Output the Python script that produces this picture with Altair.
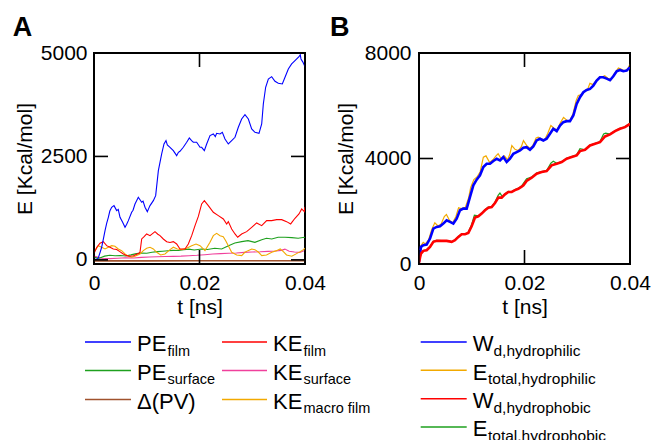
import altair as alt
import pandas as pd

FONT = "Liberation Sans"

# ---------------- Panel A data (t in ns, E in Kcal/mol) ----------------
pe_film_t = [0.0, 0.0004, 0.0008, 0.0012, 0.00145, 0.0018, 0.00209, 0.0024, 0.00272, 0.003,
             0.00335, 0.00379, 0.0043, 0.0046, 0.00493, 0.00543, 0.00588, 0.0062, 0.00651, 0.00714,
             0.0074, 0.00777, 0.0084, 0.00904, 0.0093, 0.00967, 0.01011, 0.0104, 0.01062, 0.01125,
             0.01169, 0.0122, 0.01283, 0.01327, 0.01365, 0.0139, 0.01441, 0.01504, 0.01567, 0.016,
             0.0163, 0.01693, 0.01757, 0.01807, 0.0185, 0.01883, 0.01946, 0.0201, 0.02041, 0.02092,
             0.02136, 0.02199, 0.02262, 0.023, 0.02325, 0.02389, 0.02433, 0.02483, 0.02546, 0.0261,
             0.02673, 0.02736, 0.02799, 0.02862, 0.02926, 0.02989, 0.03052, 0.03128, 0.03179, 0.0321,
             0.03254, 0.03305, 0.03368, 0.03431, 0.03494, 0.0357, 0.03621, 0.03684, 0.03747, 0.0381,
             0.03886, 0.0391, 0.03924, 0.0396, 0.04]
pe_film_e = [20, 10, 40, 200, 304, 520, 706, 880, 1029, 1180,
             1270, 1311, 1190, 1220, 1029, 908, 787, 860, 948, 1150,
             1200, 1351, 1513, 1392, 1420, 1271, 1166, 1250, 1311, 1432,
             1552, 2157, 2560, 2801, 2882, 2780, 2721, 2640, 2519, 2600,
             2625, 2721, 2842, 2946, 2880, 2842, 2842, 2721, 2721, 2640,
             2801, 3003, 3043, 2980, 3059, 3043, 3083, 2922, 2801, 2882,
             2963, 3204, 3405, 3510, 3405, 3164, 3083, 3059, 3285, 3768,
             4171, 4372, 4428, 4316, 4268, 4251, 4413, 4614, 4735, 4815,
             4911, 4960, 4856, 4780, 4670]

ke_film_t = [0.0, 0.0005, 0.00114, 0.00177, 0.0024, 0.00303, 0.00366, 0.0043, 0.0049, 0.00556,
             0.0062, 0.00682, 0.0075, 0.00777, 0.0085, 0.00872, 0.00904, 0.0095, 0.00998, 0.01062,
             0.01156, 0.0121, 0.01251, 0.01314, 0.01378, 0.01441, 0.01504, 0.01567, 0.0163, 0.01725,
             0.01788, 0.01852, 0.01915, 0.01978, 0.02041, 0.02092, 0.02167, 0.02262, 0.02357, 0.02452,
             0.02515, 0.02546, 0.0261, 0.02673, 0.02724, 0.02799, 0.02894, 0.02989, 0.03084, 0.03179,
             0.03273, 0.03368, 0.03463, 0.03558, 0.03652, 0.03728, 0.0381, 0.03886, 0.03937, 0.03987,
             0.04]
ke_film_e = [150, 300, 401, 440, 343, 305, 263, 250, 200, 140,
             102, 87, 100, 119, 160, 183, 505, 560, 626, 585,
             682, 620, 585, 505, 440, 420, 440, 384, 263, 263,
             384, 585, 827, 1050, 1351, 1432, 1311, 1150, 1069, 988,
             868, 924, 747, 626, 546, 626, 682, 787, 892, 827,
             948, 948, 972, 972, 924, 868, 1005, 1109, 1230, 1165,
             1280]

pe_surf_t = [0.0, 0.001, 0.002, 0.003, 0.004, 0.005, 0.006, 0.007, 0.008, 0.009,
             0.010, 0.011, 0.012, 0.013, 0.014, 0.015, 0.016, 0.017, 0.018, 0.019,
             0.0204, 0.0215, 0.0229, 0.0242, 0.0255, 0.0267, 0.028, 0.0292, 0.0305, 0.0318,
             0.0327, 0.0337, 0.0349, 0.0362, 0.0375, 0.0387, 0.0399, 0.04]
pe_surf_e = [60, 40, 90, 110, 100, 105, 95, 120, 150, 165,
             160, 185, 200, 210, 220, 230, 225, 245, 260, 240,
             263, 250, 280, 263, 343, 408, 440, 464, 424, 488,
             521, 505, 545, 545, 537, 521, 545, 540]

ke_surf_t = [0.0, 0.0008, 0.0015, 0.003, 0.0045, 0.006, 0.0075, 0.009, 0.0105, 0.012,
             0.0135, 0.015, 0.0165, 0.018, 0.0195, 0.021, 0.0225, 0.024, 0.0255, 0.027,
             0.0285, 0.03, 0.0315, 0.033, 0.0345, 0.0355, 0.0362, 0.037, 0.038, 0.039,
             0.0397, 0.04]
ke_surf_e = [90, 60, 40, 30, 40, 50, 45, 60, 70, 75,
             80, 85, 90, 100, 110, 125, 140, 150, 160, 165,
             180, 190, 195, 205, 215, 230, 260, 210, 190, 180,
             215, 225]

dpv_t = [0.0, 0.01, 0.02, 0.03, 0.036, 0.04]
dpv_e = [-25, -25, -22, -20, -20, -20]

ke_macro_t = [0.0, 0.0002, 0.00082, 0.00145, 0.00209, 0.00272, 0.00335, 0.00398, 0.00461, 0.00524,
              0.00588, 0.00651, 0.00714, 0.00777, 0.00872, 0.00935, 0.00998, 0.01062, 0.01125, 0.01188,
              0.01264, 0.01346, 0.01441, 0.01504, 0.0158, 0.01662, 0.01757, 0.01852, 0.01934, 0.0201,
              0.02104, 0.02199, 0.02262, 0.02325, 0.02389, 0.0245, 0.02497, 0.02546, 0.0261, 0.02705,
              0.028, 0.0286, 0.0292, 0.0299, 0.0305, 0.0312, 0.0318, 0.0327, 0.0337, 0.0346,
              0.0353, 0.0359, 0.0365, 0.0375, 0.0384, 0.0391, 0.0397, 0.04]
ke_macro_e = [200, 223, 343, 305, 263, 305, 343, 328, 263, 223,
              143, 87, 63, 87, 143, 223, 280, 305, 263, 183,
              119, 143, 247, 305, 263, 247, 280, 343, 384, 343,
              223, 424, 585, 642, 585, 560, 464, 343, 183, 119,
              103, 183, 223, 263, 247, 183, 103, 119, 183, 223,
              263, 199, 119, 87, 151, 199, 247, 280]

# ---------------- Panel B data ----------------
wd_phil_t = [0.0, 0.0002, 0.00038, 0.00082, 0.00145, 0.00209, 0.00272, 0.00335, 0.00398, 0.00461,
             0.00524, 0.00588, 0.00651, 0.00714, 0.00777, 0.0084, 0.00904, 0.00967, 0.0103, 0.01093,
             0.01156, 0.0122, 0.01283, 0.01346, 0.0141, 0.01473, 0.01536, 0.01599, 0.01662, 0.01725,
             0.01788, 0.01852, 0.01915, 0.01978, 0.0204, 0.02104, 0.02167, 0.0223, 0.02293, 0.02357,
             0.0242, 0.02483, 0.02546, 0.0261, 0.02673, 0.02736, 0.02799, 0.02862, 0.02926, 0.02989,
             0.03052, 0.03116, 0.03179, 0.03242, 0.03305, 0.03368, 0.03431, 0.03494, 0.03558, 0.03621,
             0.03684, 0.03747, 0.0381, 0.03873, 0.03937, 0.04]
wd_phil_e = [80, 400, 651, 712, 737, 965, 1343, 1406, 1431, 1532,
             1658, 1595, 1532, 1721, 2037, 2100, 2100, 2541, 2982, 3197,
             3361, 3676, 3802, 3802, 3903, 3991, 3928, 4054, 3865, 3991,
             4180, 4243, 4306, 4407, 4432, 4331, 4457, 4685, 4748, 4685,
             4748, 4937, 5126, 5038, 5252, 5378, 5416, 5416, 5630, 6072,
             6324, 6513, 6601, 6639, 6765, 6955, 7081, 7081, 7030, 6967,
             7120, 7308, 7358, 7308, 7333, 7459]

et_phil_t = [0.0, 0.0004, 0.0008, 0.0012, 0.0018, 0.0024, 0.0030, 0.0036, 0.0042, 0.0048,
             0.0052, 0.0058, 0.0064, 0.0070, 0.0075, 0.0080, 0.0088, 0.0094, 0.0098, 0.0104,
             0.0110, 0.0116, 0.0122, 0.0127, 0.0134, 0.0140, 0.0146, 0.0150, 0.0156, 0.0162,
             0.0168, 0.0172, 0.0176, 0.0182, 0.0188, 0.0194, 0.0198, 0.0204, 0.0210, 0.0216,
             0.0222, 0.0226, 0.0232, 0.0238, 0.0244, 0.0250, 0.0256, 0.0262, 0.0268, 0.0274,
             0.0280, 0.0286, 0.0292, 0.0298, 0.0302, 0.0308, 0.0314, 0.0320, 0.0324, 0.0330,
             0.0336, 0.0342, 0.0348, 0.0352, 0.0358, 0.0364, 0.0370, 0.0378, 0.0384, 0.0390,
             0.0396, 0.0400]
et_phil_e = [120, 700, 820, 760, 900, 1300, 1560, 1440, 1520, 1800,
             1880, 1650, 1560, 1800, 2130, 2100, 2150, 2500, 2900, 3200,
             3300, 3500, 4050, 4100, 3850, 3950, 4100, 4180, 3980, 4100,
             3950, 4150, 4490, 4350, 4300, 4450, 4680, 4500, 4380, 4500,
             4780, 4810, 4750, 4700, 4950, 5250, 5150, 5080, 5350, 5560,
             5450, 5430, 5700, 6200, 6390, 6420, 6540, 6640, 6850, 6800,
             6960, 7090, 7100, 7140, 7040, 6990, 7200, 7430, 7380, 7320,
             7400, 7580]

wd_phob_t = [0.0, 0.0002, 0.00038, 0.00082, 0.00145, 0.00209, 0.00272, 0.00335, 0.0043, 0.00524,
             0.0062, 0.00682, 0.00746, 0.00809, 0.00872, 0.00935, 0.00998, 0.01062, 0.01125, 0.01188,
             0.01251, 0.01314, 0.01378, 0.01441, 0.01504, 0.01567, 0.0163, 0.01693, 0.01757, 0.0182,
             0.01883, 0.01946, 0.0198, 0.0204, 0.02136, 0.0223, 0.02325, 0.0242, 0.02515, 0.0261,
             0.02705, 0.02799, 0.02894, 0.02989, 0.03052, 0.03147, 0.03242, 0.03337, 0.03431, 0.03526,
             0.03621, 0.03716, 0.0381, 0.03905, 0.04]
wd_phob_e = [45, 250, 397, 499, 524, 650, 839, 877, 877, 877,
             839, 901, 1027, 1128, 1128, 1178, 1431, 1759, 1809, 1910,
             2037, 2137, 2162, 2314, 2516, 2516, 2642, 2730, 2730, 2800,
             2850, 2930, 2982, 3150, 3272, 3424, 3487, 3525, 3739, 3802,
             3865, 3991, 4054, 4117, 4281, 4331, 4495, 4559, 4621, 4836,
             4912, 5038, 5126, 5189, 5315]

et_phob_t = [0.0, 0.0002, 0.00038, 0.00082, 0.00145, 0.00209, 0.00272, 0.00335, 0.0043, 0.00524,
             0.0062, 0.00682, 0.00746, 0.00809, 0.00872, 0.00935, 0.00998, 0.0105, 0.01125, 0.01188,
             0.01251, 0.01314, 0.01378, 0.01441, 0.0150, 0.01535, 0.0158, 0.0163, 0.01693, 0.01757,
             0.0182, 0.01883, 0.01946, 0.0204, 0.02136, 0.0223, 0.02325, 0.0242, 0.0250, 0.02546,
             0.0261, 0.02705, 0.02799, 0.02894, 0.02989, 0.03052, 0.0311, 0.03147, 0.03242, 0.03337,
             0.03431, 0.0350, 0.03539, 0.03621, 0.03716, 0.0381, 0.03905, 0.04]
et_phob_e = [30, 260, 410, 510, 540, 670, 860, 900, 890, 880,
             845, 910, 1040, 1140, 1135, 1200, 1500, 1850, 1830, 1920,
             2060, 2160, 2180, 2350, 2600, 2690, 2560, 2660, 2750, 2740,
             2820, 2870, 2960, 3230, 3300, 3450, 3500, 3540, 3820, 3900,
             3820, 3880, 4010, 4070, 4140, 4370, 4350, 4340, 4510, 4570,
             4640, 4930, 4963, 4930, 5050, 5140, 5200, 5340]

# ---------------- axes, colours, legend text ----------------
x_ticks = [0, 0.02, 0.04]
yA_ticks = [0, 2500, 5000]
yB_ticks = [0, 4000, 8000]
xA_domain = [0, 0.04]
yA_domain = [-100, 5000]
xB_domain = [0, 0.04]
yB_domain = [0, 8000]

BLUE, RED, GREEN, PINK, BROWN, ORANGE = "#0000ff", "#ff0000", "#1ea01e", "#f0409c", "#a0522d", "#f2a900"

legA_main = ["PE", "PE", "Δ(PV)", "KE", "KE", "KE"]
legA_sub = ["film", "surface", "", "film", "surface", "macro film"]
legA_col = [BLUE, GREEN, BROWN, RED, PINK, ORANGE]

legB_main = ["W", "E", "W", "E"]
legB_sub = ["d,hydrophilic", "total,hydrophilic", "d,hydrophobic", "total,hydrophobic"]
legB_col = [BLUE, ORANGE, RED, GREEN]

W, H = 211, 211
TICK = 14
one = pd.DataFrame({"k": [0]})


def text_layer(x, y, txt, size, weight="normal"):
    return alt.Chart(one).mark_text(
        align="left", baseline="alphabetic", font=FONT, fontSize=size,
        fontWeight=weight, color="black"
    ).encode(x=alt.value(x), y=alt.value(y), text=alt.value(txt))


def legend_entry(x1, x2, y, color, main, sub, tx, sx, sub_size):
    layers = [
        alt.Chart(one).mark_rule(color=color, strokeWidth=1.6).encode(
            x=alt.value(x1), x2=alt.value(x2), y=alt.value(y)),
        text_layer(tx, y + 9.3, main, 22),
    ]
    if sub:
        layers.append(text_layer(sx, y + 13.8, sub, sub_size))
    return layers


def make_panel(series, xdom, ydom, yticks, lab_pad, title_pad, letter, letter_x, legend):
    xs = alt.Scale(domain=xdom, nice=False, zero=False)
    ys = alt.Scale(domain=ydom, nice=False, zero=False)
    xax = alt.Axis(values=x_ticks, format="~g", title="t [ns]", labelFlush=False,
                   labelPadding=8, titlePadding=3)
    yax = alt.Axis(values=yticks, format="d", title="E [Kcal/mol]", labelFlush=False,
                   labelPadding=lab_pad, titlePadding=title_pad)
    layers = []
    for t, e, color, sw in series:
        df = pd.DataFrame({"t": t, "E": e})
        layers.append(alt.Chart(df).mark_line(color=color, strokeWidth=sw, clip=True).encode(
            x=alt.X("t:Q", scale=xs, axis=xax), y=alt.Y("E:Q", scale=ys, axis=yax)))
    xt = pd.DataFrame({"t": x_ticks})
    yt = pd.DataFrame({"E": yticks})
    for y1, y2 in [(0, TICK), (H - TICK, H)]:
        layers.append(alt.Chart(xt).mark_rule(color="black", strokeWidth=1.6).encode(
            x=alt.X("t:Q", scale=xs, axis=xax), y=alt.value(y1), y2=alt.value(y2)))
    for x1, x2 in [(0, TICK), (W - TICK, W)]:
        layers.append(alt.Chart(yt).mark_rule(color="black", strokeWidth=1.6).encode(
            y=alt.Y("E:Q", scale=ys, axis=yax), x=alt.value(x1), x2=alt.value(x2)))
    layers.append(text_layer(letter_x, -17.3, letter, 27, "bold"))
    layers += legend
    return alt.layer(*layers).properties(width=W, height=H)


# Panel A
seriesA = [
    (dpv_t, dpv_e, BROWN, 1.6),
    (ke_surf_t, ke_surf_e, PINK, 1.1),
    (pe_surf_t, pe_surf_e, GREEN, 1.1),
    (ke_macro_t, ke_macro_e, ORANGE, 1.1),
    (ke_film_t, ke_film_e, RED, 1.1),
    (pe_film_t, pe_film_e, BLUE, 1.1),
]
rowsA = [289, 317.5, 346.5]
legendA = []
for i in range(6):
    col, row = divmod(i, 3)
    if col == 0:
        x1, x2, tx, sx = -9, 37, 43, 73.5
    else:
        x1, x2, tx, sx = 128, 173, 179, 209.5
    legendA += legend_entry(x1, x2, rowsA[row], legA_col[i], legA_main[i], legA_sub[i], tx, sx, 14.5)

panelA = make_panel(seriesA, xA_domain, yA_domain, yA_ticks, 7, 5, "A", -81.3, legendA)

# Panel B
seriesB = [
    (et_phil_t, et_phil_e, ORANGE, 1.2),
    (wd_phil_t, wd_phil_e, BLUE, 2.6),
    (et_phob_t, et_phob_e, GREEN, 1.2),
    (wd_phob_t, wd_phob_e, RED, 2.6),
]
rowsB = [289, 317.3, 345.7, 374]
legendB = []
for i in range(4):
    sx = 74.5 if legB_main[i] == "W" else 69
    legendB += legend_entry(1.7, 47.7, rowsB[i], legB_col[i], legB_main[i], legB_sub[i], 53.7, sx, 15.5)

panelB = make_panel(seriesB, xB_domain, yB_domain, yB_ticks, 8, 8, "B", -89, legendB)

chart = alt.hconcat(panelA, panelB, spacing=114, bounds="flush").properties(
    padding={"left": 11, "top": 12, "right": 0, "bottom": 0},
    background="white",
).configure_view(
    stroke="black", strokeWidth=2
).configure_axis(
    labelFont=FONT, labelFontSize=21, labelColor="black",
    titleFont=FONT, titleFontSize=21, titleFontWeight="normal", titleColor="black",
    ticks=False, domain=False, grid=False,
)

chart.save("out.html", embed_options={"renderer": "svg", "actions": False})
